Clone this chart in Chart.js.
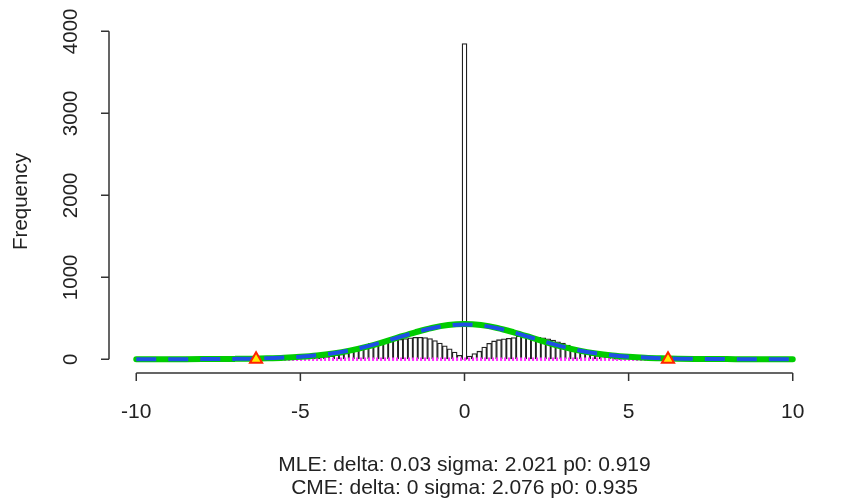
<!DOCTYPE html>
<html>
<head>
<meta charset="utf-8">
<script src="https://cdn.jsdelivr.net/npm/chart.js@4"></script>
<style>
  html, body { margin: 0; padding: 0; background: #fff; }
  #wrap { width: 865px; height: 501px; }
</style>
</head>
<body>
<div id="wrap"><canvas id="histChart"></canvas></div>
<script>
// histogram bins (centers) and counts
const binCenters = [
  -5.4, -5.25, -5.1, -4.95, -4.8, -4.65, -4.5, -4.35, -4.2, -4.05, -3.9, -3.75,
  -3.6, -3.45, -3.3, -3.15, -3.0, -2.85, -2.7, -2.55, -2.4, -2.25, -2.1, -1.95,
  -1.8, -1.65, -1.5, -1.35, -1.2, -1.05, -0.9, -0.75, -0.6, -0.45, -0.3, -0.15,
  0,
  0.15, 0.3, 0.45, 0.6, 0.75, 0.9, 1.05, 1.2, 1.35, 1.5, 1.65, 1.8,
  1.95, 2.1, 2.25, 2.4, 2.55, 2.7, 2.85, 3.0, 3.15, 3.3, 3.45, 3.6,
  3.75, 3.9, 4.05, 4.2, 4.35, 4.5, 4.65, 4.8, 4.95, 5.1, 5.25, 5.4
];
const binCounts = [
  3, 5, 8, 10, 14, 18, 22, 28, 34, 42, 52, 62,
  75, 90, 110, 130, 160, 195, 200, 205, 215, 225, 235, 245,
  255, 262, 268, 270, 265, 255, 230, 200, 165, 130, 90, 50,
  3850,
  40, 70, 100, 150, 195, 225, 240, 250, 258, 265, 285, 275,
  272, 270, 268, 262, 250, 235, 215, 200, 175, 130, 110, 90,
  75, 60, 48, 38, 30, 24, 19, 15, 11, 8, 5, 3
];

// fitted curves, read at half-unit steps
const curveX = [-10, -9.5, -9, -8.5, -8, -7.5, -7, -6.5, -6, -5.5, -5, -4.5, -4, -3.5, -3, -2.5, -2, -1.5, -1, -0.5,
  0, 0.5, 1, 1.5, 2, 2.5, 3, 3.5, 4, 4.5, 5, 5.5, 6, 6.5, 7, 7.5, 8, 8.5, 9, 9.5, 10];
const mleCurve = [1, 1, 1, 2, 3, 4, 6, 9, 14, 21, 32, 48, 72, 106, 152, 208, 270, 330, 383, 418,
  430, 418, 383, 330, 270, 208, 152, 106, 72, 48, 32, 21, 14, 9, 6, 4, 3, 2, 1, 1, 1];
const cmeCurve = [1, 1, 1, 2, 3, 4, 6, 9, 14, 22, 33, 50, 75, 109, 155, 210, 270, 329, 380, 414,
  425, 414, 380, 329, 270, 210, 155, 109, 75, 50, 33, 22, 14, 9, 6, 4, 3, 2, 1, 1, 1];

// magenta baseline and triangle markers
const baseX = [-6.35, 6.2];
const baseY = [0, 0];
const markerX = [-6.35, 6.2];
const markerY = [0, 0];

const xTicks = [-10, -5, 0, 5, 10];
const yTicks = [0, 1000, 2000, 3000, 4000];
const yTitle = 'Frequency';
const footLines = [
  'MLE: delta: 0.03 sigma: 2.021 p0: 0.919',
  'CME: delta: 0 sigma: 2.076 p0: 0.935'
];

const pts = (xs, ys) => xs.map((x, i) => ({ x: x, y: ys[i] }));

const FONT_H = '21px "Liberation Sans", Arial, sans-serif';
const FONT_V = '20.5px "Liberation Sans", Arial, sans-serif';
const INK = '#222';

// R style axes drawn through the chart scales
const rAxes = {
  id: 'rAxes',
  afterDraw(chart) {
    const ctx = chart.ctx;
    const xs = chart.scales.x, ys = chart.scales.y;
    const area = chart.chartArea;
    ctx.save();
    ctx.strokeStyle = '#333';
    ctx.lineWidth = 1.5;
    ctx.fillStyle = INK;
    ctx.font = FONT_H;

    // x axis
    const yLine = area.bottom + 1;
    ctx.beginPath();
    ctx.moveTo(xs.getPixelForValue(xTicks[0]), yLine);
    ctx.lineTo(xs.getPixelForValue(xTicks[xTicks.length - 1]), yLine);
    xTicks.forEach(t => {
      const p = xs.getPixelForValue(t);
      ctx.moveTo(p, yLine);
      ctx.lineTo(p, yLine + 8);
    });
    ctx.stroke();
    ctx.textAlign = 'center';
    ctx.textBaseline = 'middle';
    xTicks.forEach(t => ctx.fillText(String(t), xs.getPixelForValue(t), 412));

    // y axis
    const xLine = area.left - 1;
    ctx.beginPath();
    ctx.moveTo(xLine, ys.getPixelForValue(yTicks[0]));
    ctx.lineTo(xLine, ys.getPixelForValue(yTicks[yTicks.length - 1]));
    yTicks.forEach(t => {
      const p = ys.getPixelForValue(t);
      ctx.moveTo(xLine, p);
      ctx.lineTo(xLine - 8, p);
    });
    ctx.stroke();
    ctx.font = FONT_V;
    yTicks.forEach(t => {
      ctx.save();
      ctx.translate(71, ys.getPixelForValue(t));
      ctx.rotate(-Math.PI / 2);
      ctx.fillText(String(t), 0, 0);
      ctx.restore();
    });

    // axis title
    ctx.save();
    ctx.translate(21, (area.top + area.bottom) / 2);
    ctx.rotate(-Math.PI / 2);
    ctx.fillText(yTitle, 0, 0);
    ctx.restore();

    // footer lines
    ctx.font = FONT_H;
    const cx = (area.left + area.right) / 2;
    ctx.fillText(footLines[0], cx, 465);
    ctx.fillText(footLines[1], cx, 488);
    ctx.restore();
  }
};

new Chart(document.getElementById('histChart'), {
  data: {
    datasets: [
      {
        type: 'bar',
        label: 'hist',
        data: pts(binCenters, binCounts),
        backgroundColor: '#ffffff',
        borderColor: '#222222',
        borderWidth: 1.3,
        barPercentage: 1,
        categoryPercentage: 1,
        order: 5
      },
      {
        type: 'line',
        label: 'base',
        data: pts(baseX, baseY),
        borderColor: '#ff33ff',
        borderWidth: 3.5,
        borderDash: [2, 2],
        pointRadius: 0,
        order: 4
      },
      {
        type: 'line',
        label: 'MLE',
        data: pts(curveX, mleCurve),
        borderColor: '#00cc00',
        borderWidth: 6,
        borderCapStyle: 'round',
        cubicInterpolationMode: 'monotone',
        pointRadius: 0,
        order: 3
      },
      {
        type: 'line',
        label: 'CME',
        data: pts(curveX, cmeCurve),
        borderColor: '#1f4fe6',
        borderWidth: 4,
        borderDash: [20, 12],
        borderCapStyle: 'butt',
        cubicInterpolationMode: 'monotone',
        pointRadius: 0,
        order: 2
      },
      {
        type: 'line',
        label: 'markers',
        data: pts(markerX, markerY),
        showLine: false,
        pointStyle: 'triangle',
        pointRadius: 7,
        pointBackgroundColor: '#ffee00',
        pointBorderColor: '#ff2200',
        pointBorderWidth: 2,
        order: 1
      }
    ]
  },
  options: {
    responsive: true,
    maintainAspectRatio: false,
    animation: false,
    layout: { padding: { left: 110, right: 46, top: 31, bottom: 129 } },
    scales: {
      x: { type: 'linear', min: -10.8, max: 10.8, offset: false, display: false },
      y: { type: 'linear', min: -154, max: 4004, display: false }
    },
    plugins: {
      legend: { display: false },
      tooltip: { enabled: false }
    }
  },
  plugins: [rAxes]
});
</script>
</body>
</html>
